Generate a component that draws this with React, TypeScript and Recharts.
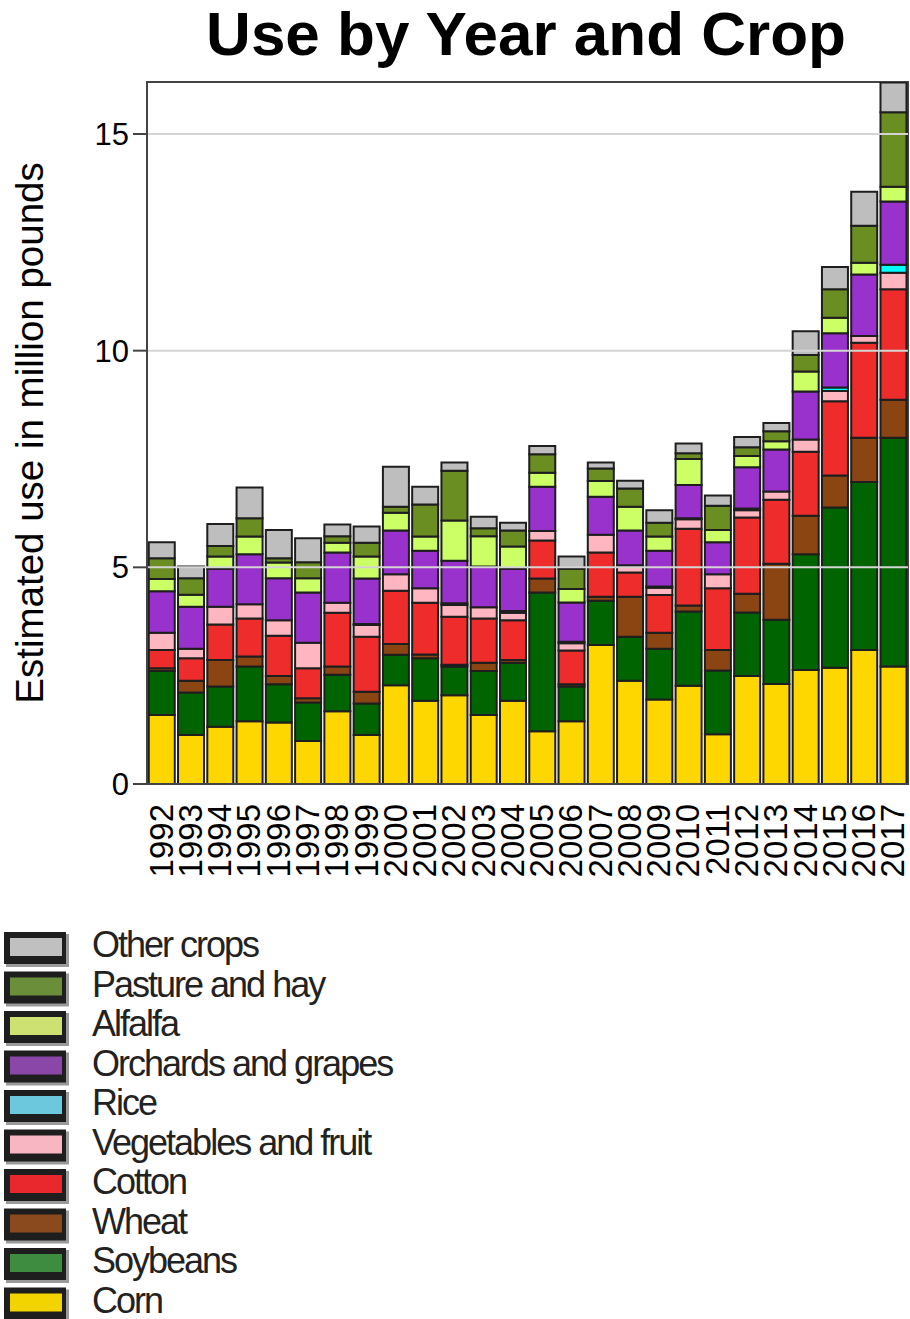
import React from "react";
import { BarChart, Bar, XAxis, YAxis, ReferenceLine, ReferenceArea } from "recharts";

const years = ["1992","1993","1994","1995","1996","1997","1998","1999","2000","2001","2002","2003","2004","2005","2006","2007","2008","2009","2010","2011","2012","2013","2014","2015","2016","2017"];

const corn = [1.59,1.13,1.32,1.45,1.42,0.99,1.68,1.13,2.28,1.92,2.05,1.59,1.92,1.22,1.45,3.21,2.38,1.95,2.27,1.15,2.49,2.31,2.63,2.68,3.09,2.71];
const soybeans = [1.02,0.98,0.93,1.26,0.88,0.89,0.84,0.73,0.70,0.98,0.66,1.02,0.88,3.20,0.80,1.02,1.02,1.17,1.71,1.47,1.47,1.48,2.67,3.70,3.88,5.28];
const wheat = [0.06,0.27,0.61,0.23,0.19,0.10,0.19,0.27,0.25,0.09,0.04,0.19,0.06,0.32,0.05,0.09,0.92,0.37,0.14,0.47,0.43,1.29,0.89,0.74,1.02,0.88];
const cotton = [0.42,0.52,0.82,0.88,0.93,0.69,1.24,1.27,1.23,1.19,1.11,1.02,0.92,0.88,0.78,1.02,0.56,0.87,1.77,1.43,1.76,1.48,1.48,1.71,2.19,2.55];
const vegetables = [0.40,0.22,0.41,0.33,0.36,0.59,0.23,0.27,0.38,0.34,0.27,0.26,0.17,0.22,0.17,0.41,0.14,0.17,0.22,0.32,0.17,0.19,0.28,0.24,0.16,0.38];
const rice = [0,0,0,0,0,0,0,0.02,0,0,0.04,0,0.04,0,0.03,0,0.03,0.03,0.02,0,0.04,0,0,0.08,0,0.18];
const orchards = [0.96,0.97,0.88,1.15,0.97,1.16,1.16,1.05,1.01,0.86,0.98,0.94,0.98,1.02,0.91,0.88,0.80,0.82,0.77,0.74,0.95,0.97,1.11,1.25,1.42,1.46];
const alfalfa = [0.28,0.28,0.28,0.41,0.36,0.33,0.23,0.51,0.41,0.33,0.93,0.70,0.51,0.32,0.31,0.36,0.55,0.33,0.60,0.28,0.26,0.19,0.46,0.36,0.27,0.34];
const pasture = [0.48,0.38,0.24,0.42,0.10,0.37,0.15,0.32,0.14,0.74,1.15,0.18,0.37,0.43,0.47,0.29,0.42,0.32,0.13,0.56,0.20,0.23,0.38,0.66,0.85,1.72];
const other = [0.37,0.27,0.51,0.71,0.65,0.55,0.27,0.37,0.92,0.41,0.19,0.27,0.18,0.19,0.28,0.14,0.18,0.29,0.23,0.24,0.24,0.19,0.55,0.51,0.79,0.69];

const yTicks = [0, 5, 10, 15];

// stacking order bottom -> top
const series = [
  { key: "corn", name: "Corn", values: corn, fill: "#ffd700", legend: "#f2d400" },
  { key: "soybeans", name: "Soybeans", values: soybeans, fill: "#006400", legend: "#3e8c40" },
  { key: "wheat", name: "Wheat", values: wheat, fill: "#8b4513", legend: "#8b4a1e" },
  { key: "cotton", name: "Cotton", values: cotton, fill: "#ee2c2c", legend: "#e8282c" },
  { key: "vegetables", name: "Vegetables and fruit", values: vegetables, fill: "#ffb6c1", legend: "#f8b6c2" },
  { key: "rice", name: "Rice", values: rice, fill: "#00ffff", legend: "#6cc8dc" },
  { key: "orchards", name: "Orchards and grapes", values: orchards, fill: "#9932cc", legend: "#8a47a8" },
  { key: "alfalfa", name: "Alfalfa", values: alfalfa, fill: "#ccff66", legend: "#cde072" },
  { key: "pasture", name: "Pasture and hay", values: pasture, fill: "#6b8e23", legend: "#6b8e3a" },
  { key: "other", name: "Other crops", values: other, fill: "#bebebe", legend: "#c0c0c0" },
];

const data = years.map((year, i) => {
  const row: Record<string, number | string> = { year };
  series.forEach((s) => {
    row[s.key] = s.values[i];
  });
  return row;
});

const FONT = "'Liberation Sans', Arial, Helvetica, sans-serif";

const XTick = (props: any) => {
  const { x, y, payload } = props;
  const bx = x + 11;
  const by = y + 12;
  return (
    <text
      x={bx}
      y={by}
      transform={`rotate(-90 ${bx} ${by})`}
      textAnchor="end"
      fontSize={33}
      fontFamily={FONT}
      fill="#000"
    >
      {payload.value}
    </text>
  );
};

export default function App() {
  const legendItems = [...series].reverse();
  return (
    <div style={{ position: "relative", width: 910, height: 1319, overflow: "hidden", background: "#fff" }}>
      <style>{`html,body{margin:0;padding:0;overflow:hidden;background:#fff}`}</style>
      <div style={{ position: "absolute", left: 0, top: 0 }}>
        <BarChart
          width={910}
          height={900}
          data={data}
          margin={{ top: 82, right: 2, bottom: 0, left: 0 }}
          barCategoryGap="6%"
        >
          <XAxis
            dataKey="year"
            interval={0}
            height={116}
            tickLine={false}
            axisLine={{ stroke: "#444", strokeWidth: 2 }}
            tick={<XTick />}
          />
          <YAxis
            width={147}
            domain={[0, 16.2]}
            ticks={yTicks}
            tickSize={14}
            tickMargin={4}
            tickLine={{ stroke: "#444", strokeWidth: 2 }}
            axisLine={{ stroke: "#444", strokeWidth: 2 }}
            tick={{ fontSize: 31, fill: "#000", fontFamily: FONT }}
            allowDataOverflow
          />
          {series.map((s) => (
            <Bar
              key={s.key}
              dataKey={s.key}
              name={s.name}
              stackId="a"
              fill={s.fill}
              stroke="#1e1e1e"
              strokeWidth={2}
              isAnimationActive={false}
            />
          ))}
          {yTicks.slice(1).map((t) => (
            <ReferenceLine key={t} y={t} stroke="#d4d4d4" strokeWidth={2} />
          ))}
          <ReferenceArea y1={0} y2={16.2} fill="none" stroke="#444" strokeWidth={2} fillOpacity={0} />
        </BarChart>
      </div>
      <svg
        width={910}
        height={1319}
        style={{ position: "absolute", left: 0, top: 0, pointerEvents: "none" }}
      >
        <text x={526} y={55} textAnchor="middle" fontSize={62} fontWeight="bold" fontFamily={FONT} fill="#000">
          Use by Year and Crop
        </text>
        <text
          x={43}
          y={433}
          transform="rotate(-90 43 433)"
          textAnchor="middle"
          fontSize={38.5}
          fontFamily={FONT}
          fill="#000"
        >
          Estimated use in million pounds
        </text>
        {legendItems.map((s, i) => {
          const t = 932 + i * 39.5;
          return (
            <g key={s.key}>
              <rect x={6} y={t + 2} width={63} height={33} fill="#9a9a9a" />
              <rect x={4} y={t} width={62} height={32} fill="#1e1e1e" />
              <rect x={10} y={t + 6} width={52} height={18} fill={s.legend} />
              <text
                x={92}
                y={957 + i * 39.5}
                fontSize={36}
                letterSpacing={-2}
                fontFamily={FONT}
                fill="#222"
              >
                {s.name}
              </text>
            </g>
          );
        })}
      </svg>
    </div>
  );
}
